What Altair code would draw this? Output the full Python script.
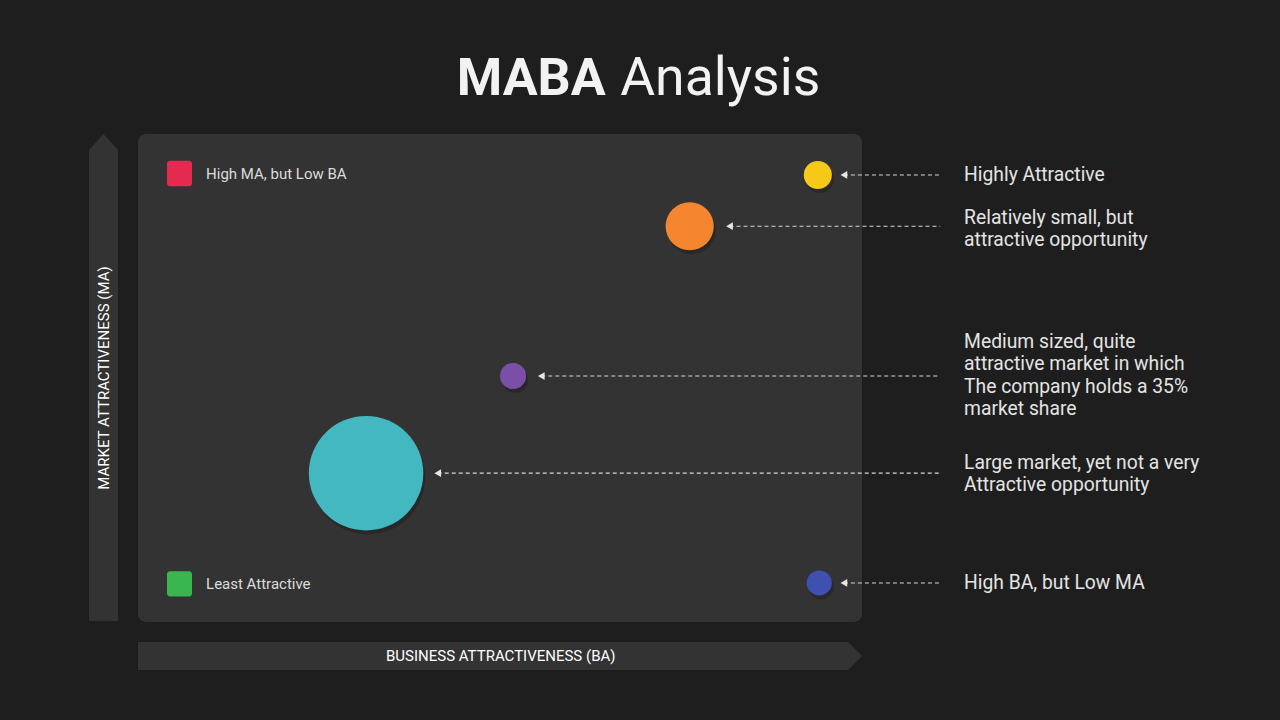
import altair as alt
import pandas as pd

# ---------------- data ----------------
descriptions = [
    "Highly Attractive",
    "Relatively small, but\nattractive opportunity",
    "Medium sized, quite\nattractive market in which\nThe company holds a 35%\nmarket share",
    "Large market, yet not a  very\nAttractive opportunity",
    "High BA, but Low MA",
]
business_attr = [93.9, 76.2, 51.8, 31.5, 94.1]   # BA (0-100)
market_attr = [91.6, 81.1, 50.4, 30.5, 8.0]      # MA (0-100)
market_size = [6.0, 17.7, 5.2, 100.0, 4.8]       # relative size
bubble_colors = ["#f6c818", "#f5862f", "#7b4fa6", "#43b8c0", "#3e50b0"]
arrow_tip_ba = [97.5, 81.7, 55.7, 41.4, 97.5]
text_center_ma = [91.5, 80.5, 50.5, 30.3, 7.9]

legend_labels = ["High MA, but Low BA", "Least Attractive"]
legend_colors = ["#e52a52", "#3bb54f"]
legend_ma = [91.9, 7.8]

# ---------------- layout ----------------
W, H = 1264, 704
PL, PR, PT, PB = 130, 854, 126, 614           # panel in chart px
PX_BA = (PR - PL) / 100.0
PX_MA = (PB - PT) / 100.0
x_dom = [-PL / PX_BA, (W - PL) / PX_BA]
y_dom = [-(H - PB) / PX_MA, PB / PX_MA]
xs = alt.Scale(domain=x_dom, nice=False, zero=False)
ys = alt.Scale(domain=y_dom, nice=False, zero=False)

FONT = "Roboto"
BG = "#1e1e1f"
PANEL = "#333333"
NOTE_SIZE = 19.3
NOTE_LH = 22.4

def X(f, **kw):
    return alt.X(f, type="quantitative", scale=xs, axis=None, **kw)

def Y(f, **kw):
    return alt.Y(f, type="quantitative", scale=ys, axis=None, **kw)

bubbles = pd.DataFrame({
    "desc": descriptions, "ba": business_attr, "ma": market_attr,
    "size": market_size, "color": bubble_colors, "tip": arrow_tip_ba,
})
bubbles["start"] = 110.8

# one row per text line, block centred on its anchor
rows = []
for d, c in zip(descriptions, text_center_ma):
    lines = d.split("\n")
    n = len(lines)
    for i, ln in enumerate(lines):
        rows.append({"t": ln, "y": c + ((n - 1) / 2.0 - i) * NOTE_LH / PX_MA, "x": 114.1})
note_df = pd.DataFrame(rows)

panel = alt.Chart(pd.DataFrame({"x": [0], "x2": [100], "y": [0], "y2": [100]})).mark_rect(
    color=PANEL, cornerRadius=8
).encode(x=X("x"), x2="x2", y=Y("y"), y2="y2")

left_bar = alt.Chart(pd.DataFrame({
    "y": [0.2, 96.7, 100.0], "x": [-6.77, -6.77, -4.77], "x2": [-2.76, -2.76, -4.77]
})).mark_area(orient="horizontal", color=PANEL).encode(y=Y("y"), x=X("x"), x2="x2")

bottom_bar = alt.Chart(pd.DataFrame({
    "x": [0.0, 98.07, 100.0], "y": [-4.1, -4.1, -6.97], "y2": [-9.84, -9.84, -6.97]
})).mark_area(orient="vertical", color=PANEL).encode(x=X("x"), y=Y("y"), y2="y2")

axis_labels = alt.Chart(pd.DataFrame({
    "t": ["MARKET ATTRACTIVENESS (MA)"], "x": [-4.75], "y": [50.0]
})).mark_text(angle=270, font=FONT, fontSize=15, fontWeight=400, color="#ffffff").encode(
    x=X("x"), y=Y("y"), text="t")
axis_labels2 = alt.Chart(pd.DataFrame({
    "t": ["BUSINESS ATTRACTIVENESS (BA)"], "x": [50.1], "y": [-6.97]
})).mark_text(font=FONT, fontSize=15, fontWeight=400, color="#ffffff").encode(
    x=X("x"), y=Y("y"), text="t")

title_bold = alt.Chart(pd.DataFrame({"t": ["MABA"], "x": [64.6], "y": [111.3]})).mark_text(
    align="right", baseline="middle", font=FONT, fontSize=52, fontWeight="bold", color="#f2f2f2"
).encode(x=X("x"), y=Y("y"), text="t")
title_rest = alt.Chart(pd.DataFrame({"t": ["Analysis"], "x": [66.6], "y": [111.3]})).mark_text(
    align="left", baseline="middle", font=FONT, fontSize=53.5, color="#f2f2f2"
).encode(x=X("x"), y=Y("y"), text="t")

legend_df = pd.DataFrame({"t": legend_labels, "color": legend_colors, "ma": legend_ma})
legend_df["x"] = 4.0
legend_df["x2"] = 7.46
legend_df["y"] = legend_df["ma"] - 2.6
legend_df["y2"] = legend_df["ma"] + 2.6
legend_df["tx"] = 9.4
legend_sq = alt.Chart(legend_df).mark_rect(cornerRadius=3).encode(
    x=X("x"), x2="x2", y=Y("y"), y2="y2", color=alt.Color("color:N", scale=None))
legend_tx = alt.Chart(legend_df).mark_text(
    align="left", baseline="middle", font=FONT, fontSize=15, color="#dcdcdc"
).encode(x=X("tx"), y=Y("ma"), text="t")

size_enc = alt.Size("size:Q", scale=alt.Scale(domain=[0, 100], range=[0, 13100]), legend=None)
shadow = alt.Chart(bubbles).mark_circle(color="#000000", opacity=0.2, xOffset=2, yOffset=4).encode(
    x=X("ba"), y=Y("ma"), size=size_enc)
circles = alt.Chart(bubbles).mark_circle(opacity=1).encode(
    x=X("ba"), y=Y("ma"), size=size_enc, color=alt.Color("color:N", scale=None))

rules = alt.Chart(bubbles).mark_rule(strokeDash=[4, 3], color="#d8d8d8", strokeWidth=1.1).encode(
    x=X("tip"), x2="start", y=Y("ma"))
heads = alt.Chart(bubbles).mark_point(
    shape="triangle-left", filled=True, size=60, color="#e6e6e6", opacity=1
).encode(x=X("tip"), y=Y("ma"))

notes = alt.Chart(note_df).mark_text(
    align="left", baseline="middle", font=FONT, fontSize=NOTE_SIZE, color="#e4e4e4"
).encode(x=X("x"), y=Y("y"), text="t")

chart = alt.layer(
    panel, left_bar, bottom_bar, axis_labels, axis_labels2, title_bold, title_rest,
    legend_sq, legend_tx, shadow, circles, rules, heads, notes
).properties(width=W, height=H, padding=0, autosize=alt.AutoSizeParams(type="none")
).configure(background=BG, view=alt.ViewConfig(stroke=None))

chart.save("out.html", embed_options={"renderer": "svg", "actions": False,
                                      "defaultStyle": "html,body{background:#1e1e1f;}"})
